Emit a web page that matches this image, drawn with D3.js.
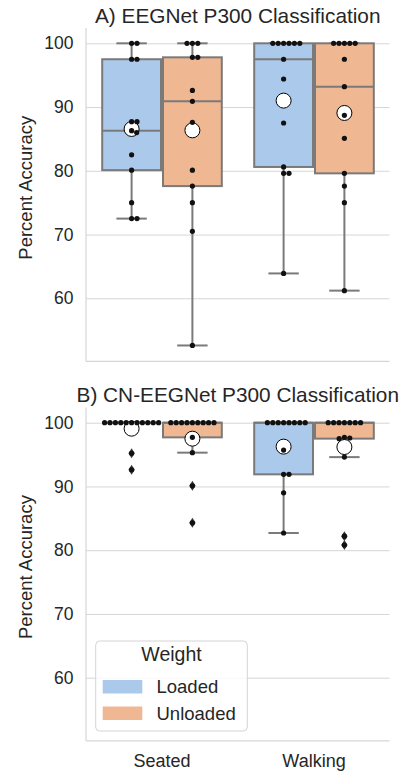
<!DOCTYPE html>
<html>
<head>
<meta charset="utf-8">
<script src="https://cdn.jsdelivr.net/npm/d3@7"></script>
<style>
  body { margin: 0; background: #fff; }
  svg { display: block; font-family: "Liberation Sans", Arial, sans-serif; }
</style>
</head>
<body>
<div id="chart"></div>
<script>
"use strict";

const conditions = ["Seated", "Walking"];
const weights = ["Loaded", "Unloaded"];
const panelTitles = ["A) EEGNet P300 Classification", "B) CN-EEGNet P300 Classification"];
const yTicks = [60, 70, 80, 90, 100];

// A) EEGNet
const eegSeatedLoaded = [100, 100, 97.5, 97.5, 87.7, 87.7, 86.3, 86.0, 82.5, 80.1, 75.0, 72.5, 72.5];
const eegSeatedUnloaded = [100, 100, 100, 97.8, 97.8, 92.6, 90.9, 87.6, 80.1, 77.6, 75.0, 70.5, 52.6];
const eegWalkingLoaded = [100, 100, 100, 100, 100, 100, 97.5, 94.4, 87.5, 80.6, 79.6, 79.6, 63.9];
const eegWalkingUnloaded = [100, 100, 100, 100, 100, 97.5, 93.2, 88.7, 85.1, 79.6, 77.6, 75.0, 61.2];

// B) CN-EEGNet
const cnSeatedLoaded = [100, 100, 100, 100, 100, 100, 100, 100, 100, 100, 100, 95.2, 92.6];
const cnSeatedUnloaded = [100, 100, 100, 100, 100, 100, 100, 100, 100, 97.7, 95.3, 90.1, 84.3];
const cnWalkingLoaded = [100, 100, 100, 100, 100, 100, 100, 100, 95.7, 91.9, 91.9, 89.0, 82.7];
const cnWalkingUnloaded = [100, 100, 100, 100, 100, 100, 100, 97.7, 97.6, 97.5, 94.6, 82.2, 80.8];

const panelData = [
  [eegSeatedLoaded, eegSeatedUnloaded, eegWalkingLoaded, eegWalkingUnloaded],
  [cnSeatedLoaded, cnSeatedUnloaded, cnWalkingLoaded, cnWalkingUnloaded]
];

const colors = ["#abc9ea", "#efb792"];
const lineColor = "#7a7a7a";
const gridColor = "#d6d6d6";
const textColor = "#262626";

const width = 404, height = 772;
const left = 86, right = 389.5;
const panelTops = [28, 407.4];
const panelHeight = 333.4;

let svg = d3.select("#chart").append("svg")
  .attr("width", width)
  .attr("height", height);

let x = d3.scaleBand().domain(conditions).range([left, right + 0.5]);
let xHue = d3.scaleBand().domain(weights).range([0, x.bandwidth() * 0.8]);


function boxStats(values)
{
  let s = values.slice().sort(d3.ascending);
  let q1 = d3.quantileSorted(s, 0.25);
  let med = d3.quantileSorted(s, 0.5);
  let q3 = d3.quantileSorted(s, 0.75);
  let iqr = q3 - q1;
  let lo = d3.min(s.filter(v => v >= q1 - 1.5 * iqr));
  let hi = d3.max(s.filter(v => v <= q3 + 1.5 * iqr));
  let fliers = s.filter(v => v < lo || v > hi);
  return {q1, med, q3, lo, hi, fliers, mean: d3.mean(s)};
}


function swarm(values, cx, y, d)
{
  let placed = [];
  values.slice().sort(d3.descending).forEach(v =>
  {
    let py = y(v);
    let candidates = [cx];
    placed.forEach(p =>
    {
      let dy = Math.abs(p.y - py);
      if (dy < d)
      {
        let dx = Math.sqrt(d * d - dy * dy);
        candidates.push(p.x + dx, p.x - dx);
      }
    });
    candidates = candidates
      .filter(c => placed.every(p => Math.hypot(p.x - c, p.y - py) >= d - 1e-6))
      .sort((a, b) => Math.abs(a - cx) - Math.abs(b - cx));
    placed.push({x: candidates[0], y: py});
  });
  return placed;
}


function drawPanel(index)
{
  let top = panelTops[index];
  let bottom = top + panelHeight;
  let y = d3.scaleLinear().domain([50.1, 102.4]).range([bottom, top]);
  let g = svg.append("g");

  // grid + y tick labels
  let yAxis = g.append("g")
    .attr("transform", `translate(${left},0)`)
    .call(d3.axisLeft(y).tickValues(yTicks).tickSize(-(right - left)).tickPadding(12.5));
  yAxis.attr("font-family", null).attr("font-size", 17.5);
  yAxis.select(".domain").remove();
  yAxis.selectAll(".tick line").attr("stroke", gridColor).attr("stroke-width", 1);
  yAxis.selectAll(".tick text").attr("fill", textColor);

  // spines
  g.append("line").attr("x1", left).attr("x2", left).attr("y1", top).attr("y2", bottom)
    .attr("stroke", gridColor).attr("stroke-width", 1.2);
  g.append("line").attr("x1", left).attr("x2", right).attr("y1", bottom).attr("y2", bottom)
    .attr("stroke", gridColor).attr("stroke-width", 1.2);

  g.append("text")
    .attr("x", (left + right) / 2)
    .attr("y", top - 5.5)
    .attr("text-anchor", "middle")
    .attr("font-size", 20.8)
    .attr("fill", textColor)
    .text(panelTitles[index]);

  g.append("text")
    .attr("transform", `translate(32,${(top + bottom) / 2 - 7}) rotate(-90)`)
    .attr("text-anchor", "middle")
    .attr("font-size", 18.5)
    .attr("fill", textColor)
    .text("Percent Accuracy");

  let groups = [];
  conditions.forEach((c, ci) =>
  {
    weights.forEach((w, wi) =>
    {
      let x0 = x(c) + x.bandwidth() * 0.1 + xHue(w);
      groups.push({values: panelData[index][ci * 2 + wi], x0, bw: xHue.bandwidth(), color: colors[wi]});
    });
  });

  // boxes, whiskers, fliers, means
  groups.forEach(gr =>
  {
    let st = boxStats(gr.values);
    let cx = gr.x0 + gr.bw / 2;
    let capW = gr.bw / 4;
    let bx = g.append("g");
    [[st.q1, st.lo], [st.q3, st.hi]].forEach(([a, b]) =>
    {
      bx.append("line").attr("x1", cx).attr("x2", cx).attr("y1", y(a)).attr("y2", y(b))
        .attr("stroke", lineColor).attr("stroke-width", 2);
      bx.append("line").attr("x1", cx - capW).attr("x2", cx + capW).attr("y1", y(b)).attr("y2", y(b))
        .attr("stroke", lineColor).attr("stroke-width", 2);
    });
    bx.append("rect")
      .attr("x", gr.x0 + 1)
      .attr("width", gr.bw - 2)
      .attr("y", y(st.q3))
      .attr("height", y(st.q1) - y(st.q3))
      .attr("fill", gr.color)
      .attr("stroke", lineColor)
      .attr("stroke-width", 2);
    bx.append("line").attr("x1", gr.x0 + 1).attr("x2", gr.x0 + gr.bw - 1)
      .attr("y1", y(st.med)).attr("y2", y(st.med))
      .attr("stroke", lineColor).attr("stroke-width", 2);
    bx.selectAll(".flier")
      .data(st.fliers)
      .enter()
      .append("path")
      .attr("d", v => `M${cx},${y(v) - 5}L${cx + 3.2},${y(v)}L${cx},${y(v) + 5}L${cx - 3.2},${y(v)}Z`)
      .attr("fill", "#3a3a3a");
    bx.append("circle")
      .attr("cx", cx)
      .attr("cy", y(st.mean))
      .attr("r", 7.5)
      .attr("fill", "#fff")
      .attr("stroke", "#000")
      .attr("stroke-width", 1);
  });

  // swarm points on top
  groups.forEach(gr =>
  {
    let cx = gr.x0 + gr.bw / 2;
    g.append("g")
      .selectAll("circle")
      .data(swarm(gr.values, cx, y, 5.4))
      .enter()
      .append("circle")
      .attr("cx", p => p.x)
      .attr("cy", p => p.y)
      .attr("r", 2.6)
      .attr("fill", "#111");
  });

  return bottom;
}


drawPanel(0);
let axisBottom = drawPanel(1);

let xAxis = svg.append("g")
  .attr("transform", `translate(0,${axisBottom})`)
  .call(d3.axisBottom(x).tickSize(0).tickPadding(13));
xAxis.attr("font-family", null).attr("font-size", 18);
xAxis.select(".domain").remove();
xAxis.selectAll(".tick text").attr("fill", textColor);

// legend
let legend = svg.append("g");
legend.append("rect")
  .attr("x", 95.7).attr("y", 641)
  .attr("width", 151.6).attr("height", 90)
  .attr("rx", 4)
  .attr("fill", "#fff").attr("fill-opacity", 0.8)
  .attr("stroke", "#d4d4d4");
legend.append("text")
  .attr("x", 171.5).attr("y", 661)
  .attr("text-anchor", "middle")
  .attr("font-size", 19.5)
  .attr("fill", textColor)
  .text("Weight");
weights.forEach((w, i) =>
{
  legend.append("rect")
    .attr("x", 102.7).attr("y", 680 + i * 26.5)
    .attr("width", 39.6).attr("height", 13.5)
    .attr("fill", colors[i]);
  legend.append("text")
    .attr("x", 156.5).attr("y", 693.3 + i * 26.2)
    .attr("font-size", 18.5)
    .attr("fill", textColor)
    .text(w);
});
</script>
</body>
</html>
